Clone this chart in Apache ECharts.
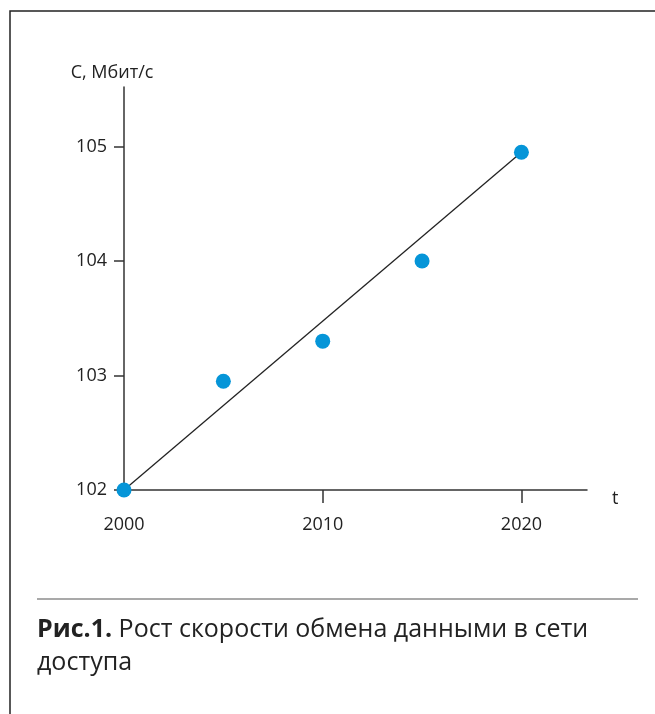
<!DOCTYPE html>
<html>
<head>
<meta charset="utf-8">
<script src="https://cdn.jsdelivr.net/npm/echarts@6/dist/echarts.min.js"></script>
<style>
  html, body { margin: 0; padding: 0; background: #fff; }
  #chart { width: 655px; height: 714px; }
</style>
</head>
<body>
<div id="chart"></div>
<script>
// измерения (годы и скорость)
const years = [2000, 2005, 2010, 2015, 2020];
const speed = [102, 102.95, 103.3, 104.0, 104.95];
// линия тренда
const trendYears = [2000, 2020];
const trendSpeed = [102, 104.95];
// подписи осей
const xLabels = [2000, 2010, 2020];
const xTicks = [2010, 2020]; // у 2000 засечку закрывает точка
const yTicks = [102, 103, 104, 105];

const font = '"Open Sans", "Noto Sans", sans-serif';
const myChart = echarts.init(document.getElementById('chart'));

const options = {
  animation: false,
  grid: { left: 124, right: 68, top: 87, bottom: 224 },
  xAxis: {
    type: 'value',
    min: 2000,
    max: 2023.3,
    name: 't',
    nameLocation: 'end',
    nameGap: 25,
    nameTextStyle: { color: '#222', fontSize: 18, fontFamily: font, verticalAlign: 'top' },
    axisLine: { show: true, lineStyle: { color: '#333', width: 1.5 } },
    axisTick: { show: true, length: 13, customValues: xTicks, lineStyle: { color: '#333', width: 1.5 } },
    axisLabel: { customValues: xLabels, margin: 26, color: '#222', fontSize: 18, fontFamily: font, formatter: v => String(v) },
    splitLine: { show: false }
  },
  yAxis: {
    type: 'value',
    min: 102,
    max: 105.52,
    name: 'С, Мбит/с',
    nameLocation: 'end',
    nameGap: 5,
    nameTextStyle: { color: '#222', fontSize: 18, fontFamily: font, padding: [0, 24, 0, 0] },
    axisLine: { show: true, lineStyle: { color: '#333', width: 1.5 } },
    axisTick: { show: true, length: 10, customValues: yTicks, lineStyle: { color: '#333', width: 1.5 } },
    axisLabel: { customValues: yTicks, margin: 17, color: '#222', fontSize: 18, fontFamily: font },
    splitLine: { show: false }
  },
  graphic: [
    // рамка слева и сверху
    { type: 'polyline', shape: { points: [[10, 714], [10, 11], [655, 11]] }, style: { stroke: '#222', lineWidth: 1.5, fill: null } },
    { type: 'line', shape: { x1: 37, y1: 599, x2: 638, y2: 599 }, style: { stroke: '#555', lineWidth: 1.2 } },
    {
      type: 'text', left: 37, top: 613,
      style: {
        text: '{b|Рис.1.} Рост скорости обмена данными в сети\nдоступа',
        fill: '#222', fontSize: 25, fontFamily: font, lineHeight: 33,
        rich: { b: { fontWeight: 'bold', fontSize: 25, fontFamily: font, fill: '#222', lineHeight: 33 } }
      }
    }
  ],
  series: [
    {
      type: 'line',
      data: trendYears.map((y, i) => [y, trendSpeed[i]]),
      symbol: 'none',
      lineStyle: { color: '#222', width: 1.3 },
      z: 1
    },
    {
      type: 'scatter',
      data: years.map((y, i) => [y, speed[i]]),
      symbolSize: 15,
      itemStyle: { color: '#0595d8', opacity: 1 },
      z: 3
    }
  ]
};

myChart.setOption(options);
</script>
</body>
</html>
